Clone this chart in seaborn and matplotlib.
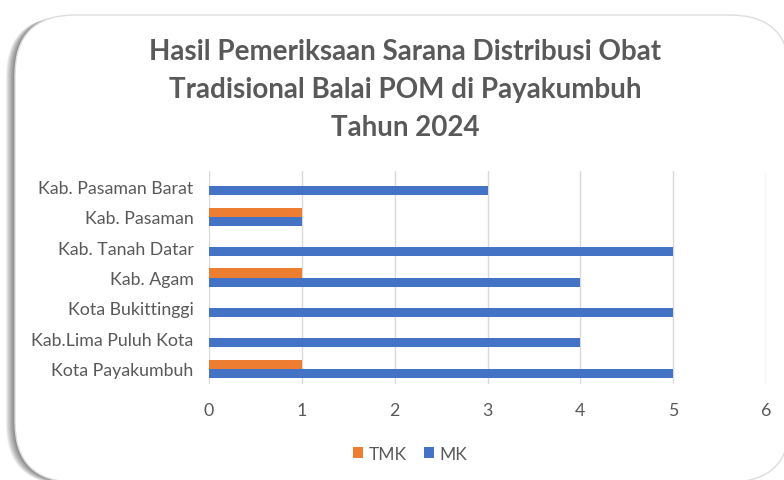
import pandas as pd
import matplotlib.pyplot as plt
import seaborn as sns
from matplotlib.patches import FancyBboxPatch

# data (top to bottom)
wilayah = ['Kab. Pasaman Barat', 'Kab. Pasaman', 'Kab. Tanah Datar', 'Kab. Agam',
           'Kota Bukittinggi', 'Kab.Lima Puluh Kota', 'Kota Payakumbuh']
tmk = [0, 1, 0, 1, 0, 0, 1]
mk = [3, 1, 5, 4, 5, 4, 5]
x_ticks = [0, 1, 2, 3, 4, 5, 6]

df = pd.DataFrame({
    'Wilayah': wilayah * 2,
    'Jumlah': tmk + mk,
    'Status': ['TMK'] * len(wilayah) + ['MK'] * len(wilayah),
})

sns.set_theme(style='white')
plt.rcParams['font.family'] = ['Lato', 'DejaVu Sans']

W, H = 784, 481
fig = plt.figure(figsize=(W / 100, H / 100), dpi=100)
fig.patch.set_facecolor('white')

# --- card background with soft shadow (pixel coordinates) ---
bg = fig.add_axes([0, 0, 1, 1], zorder=0)
bg.set_xlim(0, W)
bg.set_ylim(H, 0)
bg.axis('off')
x0, y0, x1, y1 = 15, 16, 790, 483
for i in range(10, 0, -1):
    sh = FancyBboxPatch((x0 - i * 0.9, y0 + i * 0.2), x1 - x0, y1 - y0,
                        boxstyle='round,pad=0,rounding_size=60',
                        facecolor='black', edgecolor='none', alpha=0.06)
    bg.add_patch(sh)
card = FancyBboxPatch((x0, y0), x1 - x0, y1 - y0,
                      boxstyle='round,pad=0,rounding_size=60',
                      facecolor='white', edgecolor='#DDDDDD', linewidth=1.0)
bg.add_patch(card)

# --- bar chart ---
ax = fig.add_axes([209 / W, 1 - 385 / H, (766 - 209) / W, (385 - 172) / H], zorder=1)
ax.set_facecolor('none')
sns.barplot(data=df, y='Wilayah', x='Jumlah', hue='Status', order=wilayah,
            hue_order=['TMK', 'MK'], palette={'TMK': '#ED7D31', 'MK': '#4472C4'},
            orient='h', width=0.6, linewidth=0, saturation=1, ax=ax)

ax.set_xlim(0, 6)
ax.set_ylim(len(wilayah) - 0.5, -0.5)
ax.set_xticks(x_ticks)
ax.grid(axis='x', color='#D9D9D9', linewidth=1)
ax.set_axisbelow(True)
for s in ax.spines.values():
    s.set_visible(False)
ax.set_xlabel('')
ax.set_ylabel('')
ax.tick_params(axis='both', length=0, labelsize=12.8, labelcolor='#595959')
ax.tick_params(axis='x', pad=13)
ax.tick_params(axis='y', pad=11)

handles, labels = ax.get_legend_handles_labels()
ax.get_legend().remove()
fig.legend(handles, labels, loc='center', bbox_to_anchor=(410 / W, 1 - 455 / H),
           ncol=2, frameon=False, fontsize=12.5, labelcolor='#595959',
           handlelength=0.6, handleheight=0.6, handletextpad=0.3, columnspacing=1.0)

fig.text(405 / W, 1 - 90 / H,
         'Hasil Pemeriksaan Sarana Distribusi Obat\nTradisional Balai POM di Payakumbuh\nTahun 2024',
         ha='center', va='center', fontsize=20, fontweight='bold', color='#595959',
         linespacing=1.55)

fig.savefig('out.png', dpi=100)
